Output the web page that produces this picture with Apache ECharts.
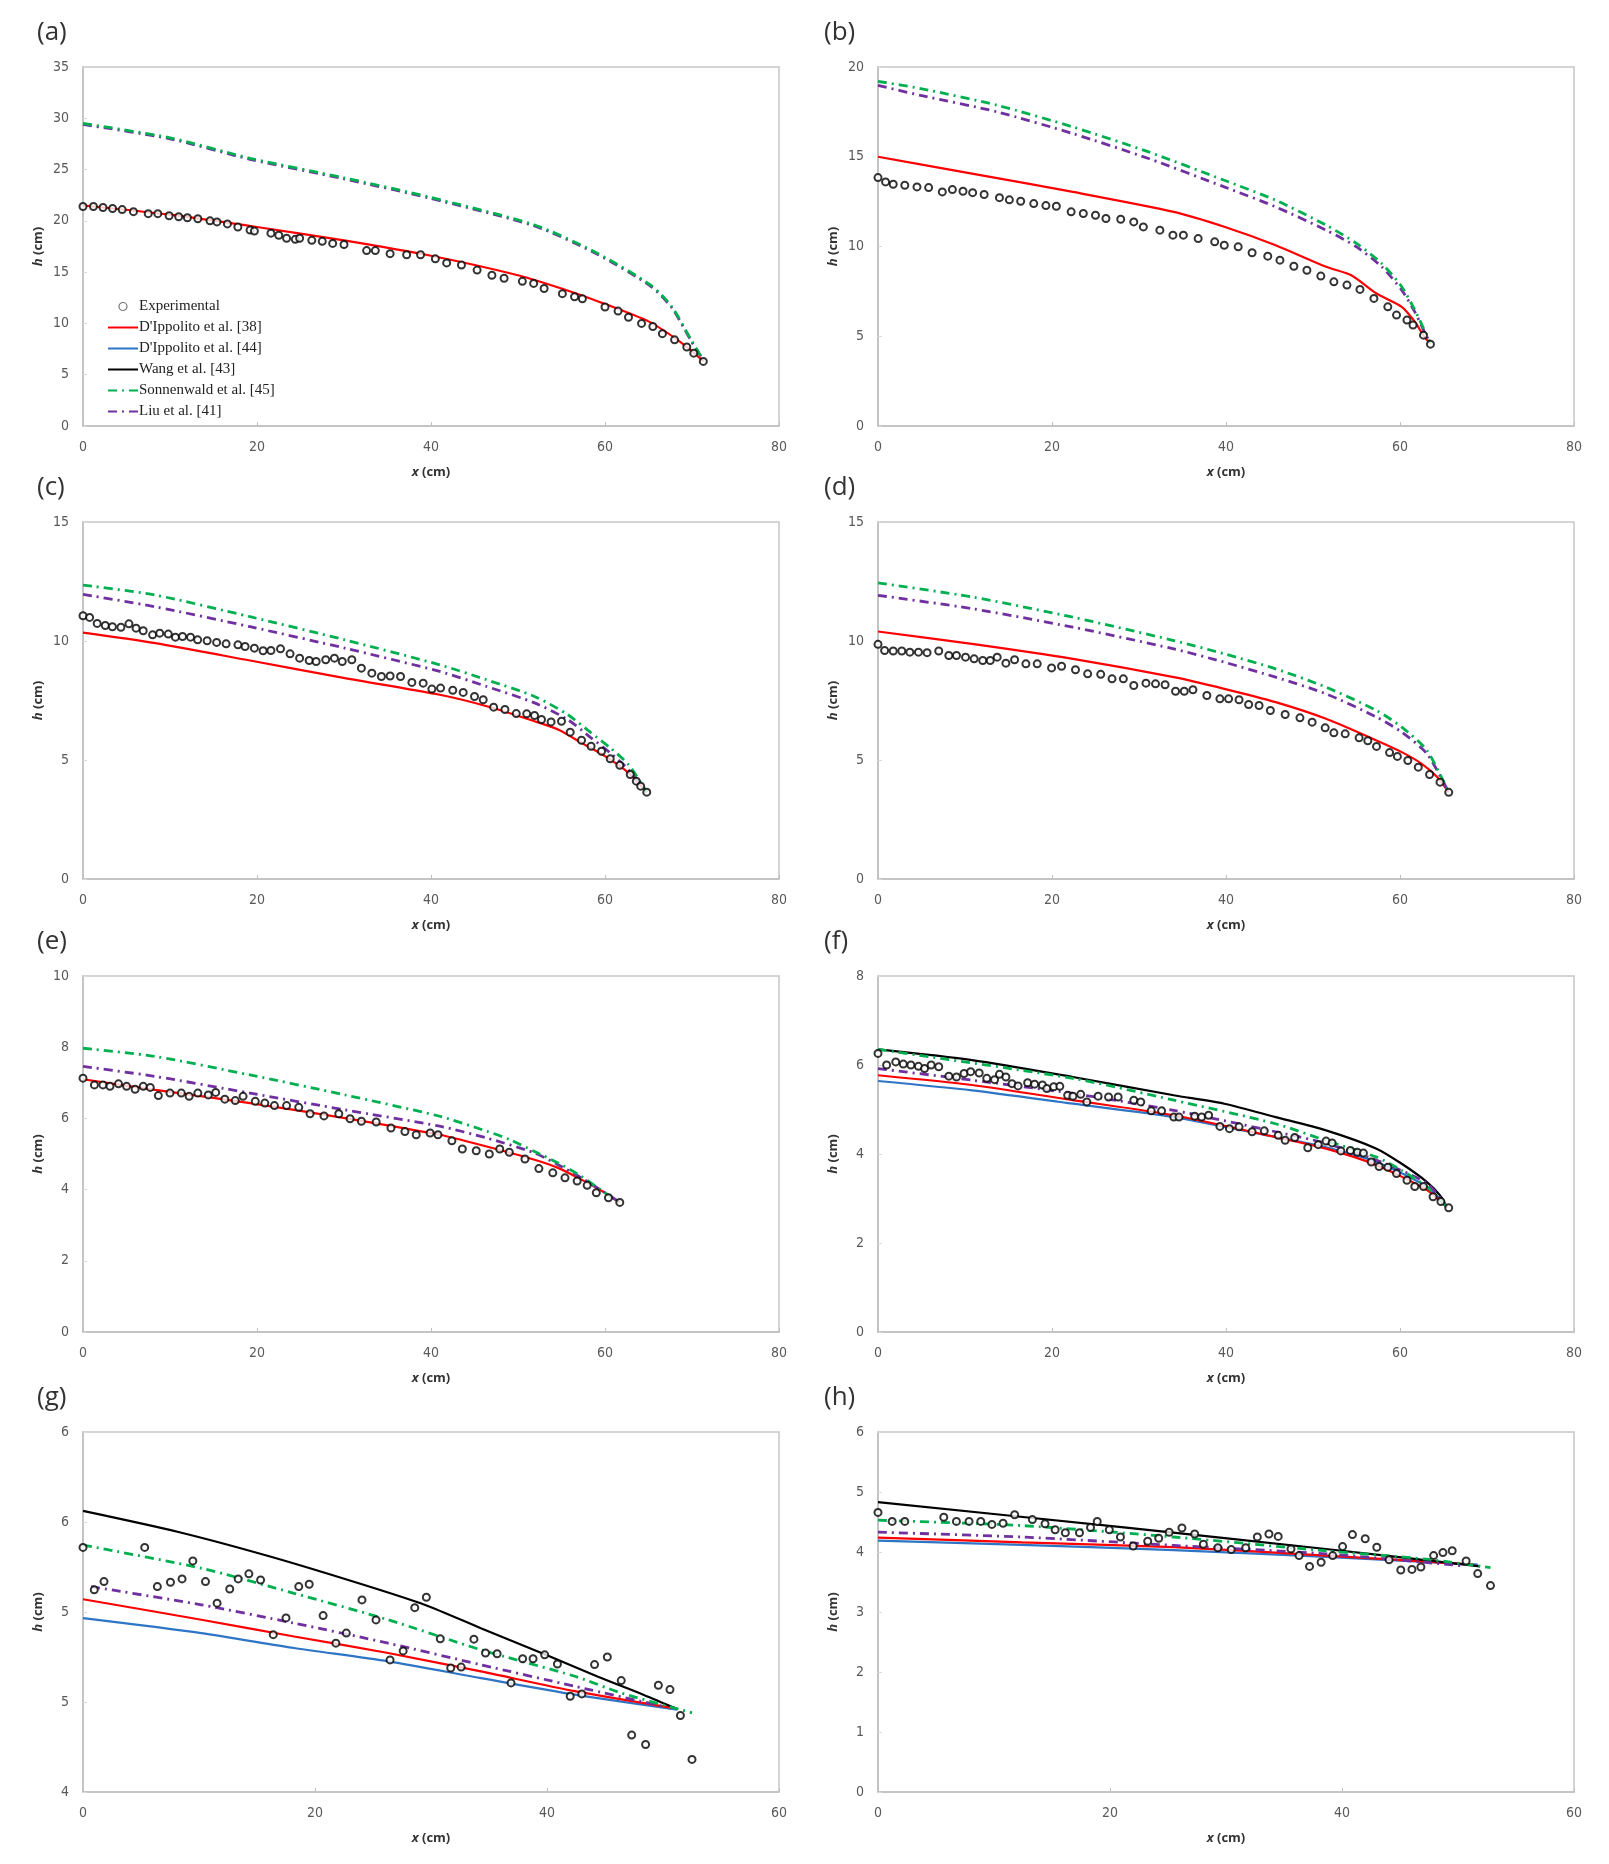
<!DOCTYPE html>
<html>
<head>
<meta charset="utf-8">
<script src="https://cdn.jsdelivr.net/npm/echarts@6/dist/echarts.min.js"></script>
<style>
html, body { margin: 0; background: #fff; }
#main { width: 1609px; height: 1864px; }
</style>
</head>
<body>
<div id="main"></div>
<script>
// series names, same order as the legend
var seriesNames = ['Experimental', "D'Ippolito et al. [38]", "D'Ippolito et al. [44]", 'Wang et al. [43]', 'Sonnenwald et al. [45]', 'Liu et al. [41]'];
var panelTags = ['(a)', '(b)', '(c)', '(d)', '(e)', '(f)', '(g)', '(h)'];

// (a)
var expA = [[0,21.4],[1.2,21.4],[2.3,21.3],[3.4,21.2],[4.5,21.1],[5.8,20.9],[7.5,20.7],[8.6,20.7],[9.9,20.5],[11.0,20.4],[12.0,20.3],[13.2,20.2],[14.6,20.0],[15.4,19.9],[16.6,19.7],[17.8,19.4],[19.2,19.1],[19.7,19.0],[21.6,18.8],[22.5,18.6],[23.4,18.3],[24.4,18.2],[24.9,18.3],[26.3,18.1],[27.5,18.0],[28.7,17.8],[30.0,17.7],[32.6,17.1],[33.6,17.1],[35.3,16.8],[37.2,16.7],[38.8,16.7],[40.5,16.3],[41.8,15.9],[43.5,15.7],[45.3,15.2],[47.0,14.7],[48.4,14.4],[50.5,14.1],[51.8,13.9],[53.0,13.4],[55.1,12.9],[56.5,12.6],[57.4,12.4],[60.0,11.6],[61.5,11.2],[62.7,10.6],[64.2,10.0],[65.5,9.7],[66.6,9.0],[68.0,8.4],[69.4,7.7],[70.2,7.1],[71.3,6.3]];
var redA = [[0,21.5],[10,20.6],[20,19.4],[30,18.1],[40,16.6],[50,14.7],[55,13.4],[60,11.9],[65,10.2],[68,8.6],[70,7.3],[71.3,6.3]];
var greenA = [[0,29.5],[10,28.1],[19.2,26.1],[30,24.2],[39.9,22.3],[51.9,19.6],[59,16.9],[65.3,13.7],[67.7,11.6],[69.9,8.4],[71.3,6.4]];
var purpleA = [[0,29.4],[10,28.0],[19.2,26.0],[30,24.1],[39.9,22.2],[51.9,19.5],[59,16.8],[65.3,13.6],[67.7,11.5],[69.9,8.3],[71.3,6.4]];

// (b)
var expB = [[0,13.84],[0.87,13.6],[1.75,13.47],[3.08,13.41],[4.48,13.32],[5.82,13.28],[7.39,13.04],[8.55,13.17],[9.77,13.08],[10.88,13.0],[12.2,12.9],[13.96,12.72],[15.1,12.6],[16.4,12.52],[17.9,12.39],[19.3,12.28],[20.5,12.24],[22.2,11.93],[23.6,11.84],[25.0,11.74],[26.2,11.56],[27.9,11.52],[29.4,11.37],[30.5,11.09],[32.4,10.91],[33.9,10.63],[35.1,10.63],[36.8,10.44],[38.7,10.26],[39.8,10.07],[41.4,9.98],[43.0,9.65],[44.8,9.46],[46.2,9.24],[47.8,8.9],[49.3,8.68],[50.9,8.35],[52.4,8.03],[53.9,7.85],[55.4,7.61],[57.0,7.11],[58.6,6.64],[59.6,6.18],[60.8,5.9],[61.5,5.62],[62.7,5.06],[63.5,4.56]];
var redB = [[0,15.0],[10.8,14.06],[22.4,13.04],[34,11.93],[39.8,11.1],[45.7,10.07],[51.5,8.87],[54.4,8.4],[57.3,7.38],[60.2,6.64],[61.7,5.81],[62.8,4.97],[63.5,4.6]];
var greenB = [[0,19.2],[4.9,18.8],[13.7,17.87],[22.4,16.66],[31.1,15.27],[39.8,13.69],[45.7,12.58],[51.5,11.19],[55,10.17],[57.9,9.05],[60.2,7.76],[61.7,6.46],[62.8,5.34],[63.5,4.6]];
var purpleB = [[0,18.98],[4.9,18.42],[13.7,17.5],[22.4,16.29],[31.1,14.9],[39.8,13.32],[45.7,12.21],[51.5,10.91],[55,9.98],[57.9,8.87],[60.2,7.57],[61.7,6.36],[62.8,5.25],[63.5,4.6]];

// (c)
var expC = [[0,11.06],[0.76,10.99],[1.63,10.74],[2.56,10.65],[3.38,10.6],[4.36,10.58],[5.28,10.72],[6.1,10.54],[6.92,10.43],[8.0,10.26],[8.82,10.33],[9.8,10.29],[10.62,10.16],[11.44,10.19],[12.36,10.16],[13.18,10.05],[14.27,10.01],[15.36,9.94],[16.45,9.88],[17.81,9.84],[18.63,9.77],[19.7,9.7],[20.7,9.59],[21.6,9.6],[22.7,9.67],[23.8,9.46],[24.9,9.28],[26.0,9.18],[26.8,9.14],[27.9,9.21],[28.9,9.28],[29.8,9.14],[30.9,9.21],[32.0,8.86],[33.2,8.65],[34.3,8.51],[35.3,8.53],[36.5,8.51],[37.8,8.26],[39.1,8.23],[40.1,7.98],[41.1,8.02],[42.5,7.93],[43.7,7.84],[45.0,7.67],[46.0,7.53],[47.2,7.22],[48.5,7.12],[49.8,6.95],[51.0,6.94],[51.9,6.87],[52.7,6.7],[53.8,6.6],[55.0,6.63],[56.0,6.17],[57.3,5.83],[58.4,5.58],[59.6,5.37],[60.6,5.05],[61.7,4.78],[62.9,4.39],[63.6,4.11],[64.1,3.9],[64.8,3.65]];
var redC = [[0,10.35],[8.3,9.91],[19.2,9.18],[30.1,8.44],[41,7.74],[46.4,7.26],[51.9,6.63],[54.6,6.28],[57.3,5.72],[60,5.16],[62.7,4.46],[64.8,3.65]];
var greenC = [[0,12.35],[8.3,11.93],[19.2,11.02],[30.1,10.05],[41,9.0],[46.4,8.37],[51.9,7.67],[55.7,6.91],[58.4,6.14],[60.6,5.51],[62.7,4.81],[64.8,3.65]];
var purpleC = [[0,11.96],[8.3,11.44],[19.2,10.6],[30.1,9.7],[41,8.72],[46.4,8.09],[51.9,7.4],[55.7,6.7],[58.4,5.93],[60.6,5.3],[62.7,4.6],[64.8,3.65]];

// (d)
var expD = [[0,9.86],[0.76,9.6],[1.75,9.58],[2.73,9.58],[3.66,9.53],[4.65,9.53],[5.64,9.51],[6.98,9.58],[8.14,9.39],[9.02,9.39],[10.06,9.32],[11.05,9.25],[12.04,9.18],[12.9,9.18],[13.7,9.32],[14.7,9.07],[15.7,9.21],[17.0,9.04],[18.3,9.04],[19.95,8.87],[21.1,8.94],[22.7,8.79],[24.1,8.62],[25.6,8.6],[26.9,8.41],[28.2,8.41],[29.4,8.13],[30.8,8.23],[31.9,8.2],[33.0,8.16],[34.2,7.89],[35.2,7.89],[36.2,7.95],[37.8,7.71],[39.3,7.57],[40.3,7.57],[41.5,7.53],[42.6,7.33],[43.8,7.29],[45.1,7.08],[46.8,6.91],[48.5,6.77],[49.9,6.59],[51.4,6.35],[52.4,6.14],[53.7,6.1],[55.3,5.93],[56.3,5.81],[57.3,5.57],[58.8,5.31],[59.7,5.15],[60.9,4.98],[62.1,4.7],[63.4,4.39],[64.6,4.07],[65.6,3.64]];
var redD = [[0,10.4],[10.8,9.88],[22.4,9.25],[34,8.48],[39.8,7.99],[45.7,7.43],[51.5,6.73],[57.3,5.82],[60.2,5.33],[62.5,4.84],[64.3,4.28],[65.6,3.64]];
var greenD = [[0,12.44],[10.8,11.85],[22.4,11.0],[34,10.02],[39.8,9.46],[45.7,8.83],[51.5,8.06],[57.3,7.08],[60.2,6.38],[63.1,5.4],[65.6,3.64]];
var purpleD = [[0,11.92],[10.8,11.36],[22.4,10.58],[34,9.67],[39.8,9.11],[45.7,8.48],[51.5,7.78],[57.3,6.8],[60.2,6.17],[63.1,5.26],[65.6,3.64]];

// (e)
var expE = [[0,7.13],[1.31,6.94],[2.29,6.94],[3.1,6.9],[4.08,6.97],[5.01,6.9],[5.99,6.82],[6.92,6.9],[7.73,6.87],[8.66,6.64],[10.0,6.71],[11.3,6.71],[12.2,6.62],[13.2,6.71],[14.4,6.66],[15.25,6.73],[16.3,6.54],[17.5,6.5],[18.4,6.62],[19.8,6.48],[20.9,6.43],[22.0,6.36],[23.4,6.36],[24.8,6.31],[26.1,6.13],[27.7,6.07],[29.4,6.13],[30.7,5.99],[32.0,5.92],[33.7,5.9],[35.4,5.73],[37.0,5.63],[38.3,5.54],[39.9,5.59],[40.8,5.54],[42.4,5.37],[43.6,5.14],[45.2,5.09],[46.7,5.0],[47.9,5.14],[49.0,5.05],[50.8,4.86],[52.4,4.59],[54.0,4.47],[55.4,4.33],[56.8,4.24],[57.95,4.12],[59.0,3.91],[60.4,3.77],[61.7,3.64]];
var redE = [[0,7.1],[8.3,6.8],[19.2,6.43],[30.1,6.01],[41,5.54],[46.4,5.21],[51.9,4.84],[54.6,4.61],[57.3,4.28],[60,3.91],[61.7,3.64]];
var greenE = [[0,7.97],[8.3,7.74],[19.2,7.22],[30.1,6.66],[41,6.06],[46.4,5.64],[49.1,5.4],[51.9,5.07],[54.6,4.75],[57.3,4.37],[60,3.91],[61.7,3.64]];
var purpleE = [[0,7.46],[8.3,7.18],[19.2,6.71],[30.1,6.24],[41,5.78],[46.4,5.45],[51.9,5.03],[54.6,4.7],[57.3,4.33],[60,3.91],[61.7,3.64]];

// (f)
var expF = [[0,6.26],[0.99,6.0],[2.04,6.07],[2.91,6.02],[3.78,6.0],[4.65,5.97],[5.35,5.92],[6.11,6.0],[6.98,5.96],[8.14,5.75],[9.02,5.73],[9.89,5.81],[10.65,5.85],[11.63,5.82],[12.5,5.7],[13.4,5.67],[13.96,5.79],[14.7,5.73],[15.4,5.58],[16.1,5.53],[17.2,5.6],[18.0,5.57],[18.9,5.55],[19.4,5.47],[20.2,5.51],[20.9,5.52],[21.8,5.32],[22.4,5.3],[23.3,5.34],[24.0,5.17],[25.3,5.3],[26.5,5.28],[27.6,5.28],[29.4,5.21],[30.2,5.17],[31.4,4.97],[32.6,4.97],[34.0,4.83],[34.6,4.83],[36.4,4.85],[37.2,4.83],[38.0,4.87],[39.3,4.62],[40.4,4.57],[41.5,4.61],[43.0,4.5],[44.4,4.52],[46.0,4.42],[46.8,4.31],[47.9,4.37],[49.4,4.14],[50.6,4.21],[51.5,4.29],[52.2,4.25],[53.2,4.07],[54.3,4.08],[55.1,4.04],[55.8,4.02],[56.7,3.82],[57.6,3.72],[58.6,3.7],[59.6,3.56],[60.8,3.41],[61.7,3.27],[62.7,3.27],[63.8,3.04],[64.7,2.93],[65.6,2.79]];
var redF = [[0,5.77],[10.8,5.55],[22.4,5.21],[34,4.87],[45.7,4.38],[51.5,4.12],[57.3,3.75],[63.1,3.19],[65.4,2.8]];
var blueF = [[0,5.64],[10.8,5.43],[22.4,5.13],[34,4.83],[45.7,4.38],[51.5,4.15],[57.3,3.82],[63.1,3.26],[65.4,2.8]];
var blackF = [[0,6.35],[10.8,6.11],[22.4,5.73],[34,5.32],[39.8,5.13],[45.7,4.83],[51.5,4.53],[57.3,4.12],[60.2,3.78],[63.1,3.37],[64.6,3.07],[65.4,2.8]];
var greenF = [[0,6.35],[22.4,5.7],[34,5.21],[45.7,4.68],[51.5,4.3],[57.3,3.93],[60.2,3.63],[63.1,3.26],[65.4,2.8]];
var purpleF = [[0,5.92],[10.8,5.66],[22.4,5.36],[34,4.98],[45.7,4.5],[51.5,4.24],[57.3,3.86],[63.1,3.34],[65.4,2.8]];

// (g)
var expG = [[0,5.359],[0.97,5.123],[1.81,5.169],[5.32,5.359],[6.41,5.141],[7.54,5.165],[8.54,5.184],[9.47,5.284],[10.56,5.169],[11.56,5.049],[12.65,5.128],[13.38,5.184],[14.3,5.212],[15.31,5.178],[16.4,4.874],[17.5,4.967],[18.6,5.141],[19.5,5.154],[20.7,4.98],[21.8,4.827],[22.7,4.883],[24.05,5.067],[25.26,4.956],[26.47,4.734],[27.6,4.784],[28.6,5.024],[29.6,5.082],[30.8,4.851],[31.7,4.689],[32.6,4.694],[33.7,4.849],[34.7,4.772],[35.7,4.768],[36.9,4.606],[37.9,4.74],[38.8,4.74],[39.8,4.762],[40.9,4.711],[42.0,4.532],[43.0,4.545],[44.1,4.708],[45.2,4.75],[46.4,4.619],[47.3,4.316],[48.5,4.264],[49.6,4.593],[50.6,4.569],[51.5,4.425],[52.5,4.181]];
var redG = [[0,5.071],[10.2,4.957],[18.2,4.864],[26.3,4.772],[34.3,4.67],[42.4,4.56],[50.8,4.467]];
var blueG = [[0,4.966],[10.2,4.883],[18.2,4.8],[26.3,4.726],[34.3,4.633],[42.4,4.541],[51.2,4.458]];
var blackG = [[0,5.562],[8.14,5.446],[16.2,5.307],[24.25,5.15],[29.5,5.039],[34.3,4.91],[40,4.76],[44.4,4.64],[48.4,4.538],[51.2,4.462]];
var greenG = [[0,5.372],[10.2,5.243],[18.2,5.104],[26.3,4.957],[34.3,4.79],[42.4,4.643],[46.4,4.55],[52.5,4.44]];
var purpleG = [[0.7,5.141],[10.2,5.04],[18.2,4.938],[26.3,4.827],[34.3,4.707],[42.4,4.587],[50,4.476]];

// (h)
var expH = [[0,4.66],[1.22,4.51],[2.31,4.51],[5.67,4.58],[6.76,4.51],[7.85,4.51],[8.86,4.51],[9.82,4.46],[10.78,4.48],[11.78,4.62],[13.31,4.54],[14.4,4.47],[15.27,4.37],[16.15,4.32],[17.37,4.32],[18.32,4.41],[18.9,4.51],[19.94,4.37],[20.9,4.25],[22.0,4.1],[23.25,4.18],[24.2,4.23],[25.1,4.33],[26.2,4.4],[27.3,4.3],[28.05,4.13],[29.3,4.07],[30.45,4.04],[31.7,4.07],[32.7,4.25],[33.7,4.3],[34.5,4.26],[35.6,4.05],[36.3,3.94],[37.2,3.76],[38.2,3.83],[39.2,3.94],[40.05,4.09],[40.9,4.29],[42.0,4.22],[43.0,4.08],[44.06,3.87],[45.07,3.7],[46.03,3.71],[46.8,3.75],[47.9,3.94],[48.7,3.99],[49.5,4.02],[50.7,3.85],[51.7,3.64],[52.8,3.44]];
var redH = [[0,4.24],[12.4,4.16],[25.5,4.08],[38.6,3.94],[51.3,3.79]];
var blueH = [[0,4.19],[12.4,4.12],[25.5,4.03],[38.6,3.92],[51.7,3.79]];
var blackH = [[0,4.83],[21.2,4.41],[38.6,4.05],[51.9,3.76]];
var greenH = [[0,4.53],[12.4,4.44],[25.5,4.25],[38.6,4.02],[47.3,3.88],[52.8,3.74]];
var purpleH = [[0,4.33],[12.4,4.25],[25.5,4.11],[38.6,3.97],[50.4,3.77]];

// axis ranges per panel
var xMaxes = [80, 80, 80, 80, 80, 80, 60, 60];
var yMins = [0, 0, 0, 0, 0, 0, 4, 0];
var yMaxes = [35, 20, 15, 15, 10, 8, 6, 6];
var yIntervals = [5, 5, 5, 5, 2, 2, 0.5, 1];

var panelData = [
  [expA, redA, null, null, greenA, purpleA],
  [expB, redB, null, null, greenB, purpleB],
  [expC, redC, null, null, greenC, purpleC],
  [expD, redD, null, null, greenD, purpleD],
  [expE, redE, null, null, greenE, purpleE],
  [expF, redF, blueF, blackF, greenF, purpleF],
  [expG, redG, blueG, blackG, greenG, purpleG],
  [expH, redH, blueH, blackH, greenH, purpleH]
];

var lineColors = [null, '#ff0000', '#2e75c6', '#000000', '#00b050', '#7030a0'];
var lineZ = [0, 4, 3, 5, 7, 6];
var numFont = "'Liberation Sans Narrow','DejaVu Sans Condensed','Open Sans',sans-serif";
var labelFont = "'Open Sans','Liberation Sans',sans-serif";

var myChart = echarts.init(document.getElementById('main'));

var rowTops = [67, 522, 976, 1432];
var rowHeights = [359, 357, 356, 360];
var colLefts = [83, 878];

var grids = [], xAxes = [], yAxes = [], series = [], graphics = [];

function nameStyle() {
  return {
    fontFamily: labelFont, fontSize: 13, fontWeight: 'bold', color: '#333',
    rich: { i: { fontFamily: labelFont, fontSize: 13, fontWeight: 'bold', fontStyle: 'italic', color: '#333' } }
  };
}

for (var i = 0; i < 8; i++) {
  var col = i % 2, row = Math.floor(i / 2);
  grids.push({
    left: colLefts[col], top: rowTops[row], width: 696, height: rowHeights[row],
    show: true, borderColor: '#c6c6c6', borderWidth: 1.5, backgroundColor: '#fff'
  });
  xAxes.push({
    gridIndex: i, type: 'value', min: 0, max: xMaxes[i], interval: 20,
    name: '{i|x} (cm)', nameLocation: 'middle', nameGap: 40, nameTextStyle: nameStyle(),
    axisLine: { lineStyle: { color: '#bfbfbf', width: 1.5 } },
    axisTick: { inside: true, length: 4, lineStyle: { color: '#bfbfbf' } },
    axisLabel: { color: '#595959', fontSize: 14, fontFamily: numFont, margin: 14 },
    splitLine: { show: false }
  });
  var yAx = {
    gridIndex: i, type: 'value', min: yMins[i], max: yMaxes[i], interval: yIntervals[i],
    name: '{i|h} (cm)', nameLocation: 'middle', nameGap: 38, nameTextStyle: nameStyle(),
    axisLine: { show: true, lineStyle: { color: '#bfbfbf', width: 1.5 } },
    axisTick: { show: true, inside: true, length: 4, lineStyle: { color: '#d9d9d9' } },
    axisLabel: { color: '#595959', fontSize: 14, fontFamily: numFont, margin: 14 },
    splitLine: { show: false }
  };
  if (i === 6) {
    // panel (g): Excel-style whole-number labels on 0.5 steps
    yAx.axisLabel.formatter = function (v) { return String(Math.round(v)); };
  }
  yAxes.push(yAx);

  var d = panelData[i];
  for (var k = 1; k < 6; k++) {
    if (!d[k]) continue;
    var dashed = (k === 4 || k === 5);
    series.push({
      name: seriesNames[k], type: 'line', xAxisIndex: i, yAxisIndex: i,
      data: d[k], symbol: 'none', smooth: 0.25,
      z: lineZ[k],
      itemStyle: { color: lineColors[k] },
      lineStyle: dashed
        ? { color: lineColors[k], width: 2.8, type: [9, 5, 2, 5] }
        : { color: lineColors[k], width: 2.2 }
    });
  }
  series.push({
    name: seriesNames[0], type: 'scatter', xAxisIndex: i, yAxisIndex: i,
    data: d[0], symbol: 'emptyCircle', symbolSize: 7, z: 10,
    itemStyle: { color: '#000', borderColor: '#000', borderWidth: 1.8 }
  });

  graphics.push({
    type: 'text',
    left: col === 0 ? 37 : 824,
    top: rowTops[row] - 47,
    style: { text: panelTags[i], font: "26px 'Open Sans', sans-serif", fill: '#333' }
  });
}

var option = {
  backgroundColor: '#ffffff',
  animation: false,
  grid: grids,
  xAxis: xAxes,
  yAxis: yAxes,
  series: series,
  graphic: graphics,
  legend: {
    data: seriesNames.map(function (n, j) {
      if (j === 0) {
        return { name: n, icon: 'circle', itemStyle: { color: '#fff', borderColor: '#555', borderWidth: 1.2 } };
      }
      return { name: n, itemStyle: { opacity: 0 } };
    }),
    orient: 'vertical',
    left: 102, top: 294,
    itemWidth: 30, itemHeight: 8, itemGap: 6,
    textStyle: { fontFamily: "'Liberation Serif','DejaVu Serif',serif", fontSize: 15, color: '#222', lineHeight: 14, padding: [0, 0, 0, -4] }
  }
};

myChart.setOption(option);
</script>
</body>
</html>
